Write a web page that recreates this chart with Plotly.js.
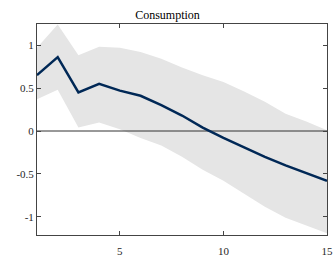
<!DOCTYPE html>
<html><head><meta charset="utf-8">
<script src="https://cdn.plot.ly/plotly-3.0.1.min.js"></script>
<style>html,body{margin:0;padding:0;background:#fff}#c{width:335px;height:257px}</style>
</head><body><div id="c"></div>
<script>
const horizon = [1,2,3,4,5,6,7,8,9,10,11,12,13,14,15];
const response = [0.65,0.86,0.45,0.55,0.47,0.41,0.30,0.18,0.04,-0.08,-0.19,-0.30,-0.40,-0.49,-0.58];
const upper = [0.97,1.24,0.88,0.98,0.97,0.92,0.84,0.74,0.65,0.57,0.46,0.34,0.20,0.11,0.01];
const lower = [0.37,0.48,0.04,0.10,0.02,-0.08,-0.17,-0.30,-0.45,-0.58,-0.73,-0.88,-1.01,-1.10,-1.19];
const yTicks = [-1,-0.5,0,0.5,1];
const yTickText = ["-1","-0.5","0","0.5","1"];
const xTicks = [5,10,15];
const xTickText = ["5","10","15"];

const fam = 'Liberation Serif, Times New Roman, serif';
const font = {family:fam, size:11, color:'#262626'};
const traces = [
  {x:horizon, y:lower, mode:'lines', line:{width:0, color:'rgba(0,0,0,0)'}, hoverinfo:'skip', showlegend:false},
  {x:horizon, y:upper, mode:'lines', fill:'tonexty', fillcolor:'#e5e5e5', line:{width:0, color:'rgba(0,0,0,0)'}, hoverinfo:'skip', showlegend:false},
  {x:[horizon[0], horizon[horizon.length-1]], y:[0,0], mode:'lines', line:{width:1, color:'#333'}, hoverinfo:'skip', showlegend:false},
  {x:horizon, y:response, mode:'lines', line:{width:2.5, color:'#002856'}, showlegend:false}
];
const layout = {
  width:335, height:257,
  margin:{l:37, r:8, t:24, b:22},
  paper_bgcolor:'#fff', plot_bgcolor:'#fff',
  font: font,
  title:{text:'Consumption', font:{family:fam, size:12, color:'#000'}, x:0.5, xanchor:'center', y:1, yref:'paper', yanchor:'bottom', pad:{b:5}},
  xaxis:{range:[1,15], tickvals:xTicks, ticktext:xTickText, ticks:'inside', ticklen:4, tickcolor:'#444', showline:true, linecolor:'#444', linewidth:1, mirror:'ticks', showgrid:false, zeroline:false, tickfont:font, ticklabelstandoff:6},
  yaxis:{range:[-1.21,1.245], tickvals:yTicks, ticktext:yTickText, ticks:'inside', ticklen:4, tickcolor:'#444', showline:true, linecolor:'#444', linewidth:1, mirror:'ticks', showgrid:false, zeroline:false, tickfont:font},
  showlegend:false
};
Plotly.newPlot('c', traces, layout, {displayModeBar:false, staticPlot:true});
</script></body></html>
